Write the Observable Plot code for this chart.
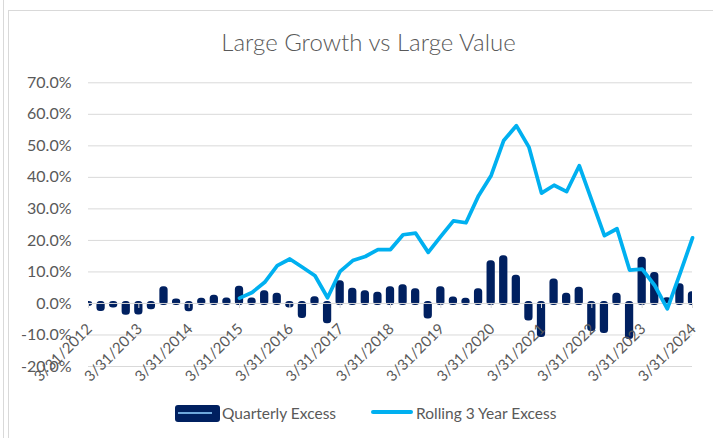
<!DOCTYPE html>
<html><head><meta charset="utf-8">
<script src="https://cdn.jsdelivr.net/npm/d3@7"></script>
<script src="https://cdn.jsdelivr.net/npm/@observablehq/plot@0.6"></script>
<style>
body{margin:0;background:#fff;font-family:Lato,sans-serif;}
#wrap{position:relative;width:713px;height:438px;overflow:hidden;background:#fff;}
#frame{position:absolute;left:8px;top:10px;width:760px;height:460px;border:1px solid #d9d9d9;}
#edge{position:absolute;left:3px;top:0;height:438px;border-left:1px solid #d9d9d9;}
#title{position:absolute;left:0;top:27px;width:737px;text-align:center;font-size:24px;font-weight:300;color:#595959;white-space:nowrap;}
#chart{position:absolute;left:0;top:60px;}
.lg{position:absolute;font-size:15.5px;color:#595959;line-height:18px;white-space:nowrap;}
#sw1{position:absolute;left:175px;top:405px;width:45px;height:17px;background:#002060;border-radius:3px;}
#sw1 i{position:absolute;left:3px;right:8px;top:7px;height:2px;background:#6fa8dc;}
#sw2{position:absolute;left:371px;top:410px;width:42px;height:4px;background:#00B0F0;border-radius:2px;}
</style></head>
<body><div id="wrap">
<div id="edge"></div><div id="frame"></div>
<div id="title">Large Growth vs Large Value</div>
<div id="chart"></div>
<div id="sw1"><i></i></div><div class="lg" style="left:222px;top:404px">Quarterly Excess</div>
<div id="sw2"></div><div class="lg" style="left:416px;top:404px">Rolling 3 Year Excess</div>
</div>
<script>
// Quarter-end labels shown on the category axis (every 4th quarter)
const tickLabels = ["3/31/2012","3/31/2013","3/31/2014","3/31/2015","3/31/2016","3/31/2017","3/31/2018","3/31/2019","3/31/2020","3/31/2021","3/31/2022","3/31/2023","3/31/2024"];
// Quarterly excess return (%), 3/31/2012 .. 3/31/2024
const quarterly = [-0.3,-1.9,-0.8,-3.1,-3.0,-1.4,4.7,0.8,-2.0,1.0,2.0,1.1,
  4.8,1.1,3.4,2.6,-0.8,-4.1,1.5,-5.8,6.6,4.2,3.4,2.9,
  4.7,5.3,4.0,-4.3,4.7,1.4,1.0,4.0,12.9,14.5,8.3,-4.9,
  -10.2,7.1,2.6,4.5,-8.3,-8.9,2.6,-10.8,14.0,9.2,1.2,5.6,3.1];
// Rolling 3-year excess (%), begins 3/31/2015
const rolling = [null,null,null,null,null,null,null,null,null,null,null,null,
  1.7,3.5,6.7,12.0,14.1,11.5,8.8,1.8,10.2,13.6,14.9,17.1,
  17.1,21.8,22.3,16.2,21.3,26.2,25.6,34.2,40.6,51.7,56.4,49.6,
  35.0,37.5,35.5,43.7,32.6,21.5,23.7,10.6,10.9,5.7,-1.7,9.4,20.8];
const yTicks = [-20,-10,0,10,20,30,40,50,60,70];

const idx = d3.range(quarterly.length);
const tickIdx = tickLabels.map((_, j) => j * 4);
const fmt = d => d.toFixed(1) + "%";

const chart = Plot.plot({
  width: 713, height: 330,
  marginLeft: 88, marginRight: 21, marginTop: 22.3, marginBottom: 24,
  x: {type: "linear", domain: [0, quarterly.length - 1], axis: null},
  y: {domain: [-20, 70], label: null},
  style: {fontFamily: "Lato, sans-serif", fontSize: "16px", color: "#595959", background: "transparent", overflow: "visible"},
  marks: [
    Plot.gridY(yTicks, {stroke: "#d9d9d9", strokeOpacity: 1, strokeWidth: 1}),
    Plot.axisY(yTicks, {tickSize: 0, tickPadding: 17, tickFormat: fmt, fill: "#595959", fontSize: 16, label: null}),
    Plot.rectY(idx, {x1: i => i - 0.17, x2: i => i + 0.17, y1: 0, y2: i => quarterly[i],
      fill: "#002060", stroke: "#002060", strokeWidth: 4, strokeLinejoin: "round", rx: 1.5, clip: true}),
    Plot.ruleY([0], {stroke: "#d9d9d9", strokeWidth: 1}),
    Plot.ruleX(tickIdx, {x: d => d, y1: 0, y2: -1.6, stroke: "#d9d9d9"}),
    Plot.line(idx.filter(i => rolling[i] != null), {x: i => i, y: i => rolling[i],
      stroke: "#00B0F0", strokeWidth: 3.75, strokeLinejoin: "round", strokeLinecap: "round"}),
    Plot.text(tickIdx, {x: d => d, y: 0, text: (d, j) => tickLabels[j], rotate: -45,
      textAnchor: "end", lineAnchor: "middle", dx: 1, dy: 23, fill: "#595959", fontSize: 15})
  ]
});
document.getElementById("chart").append(chart);
</script>
</body></html>
